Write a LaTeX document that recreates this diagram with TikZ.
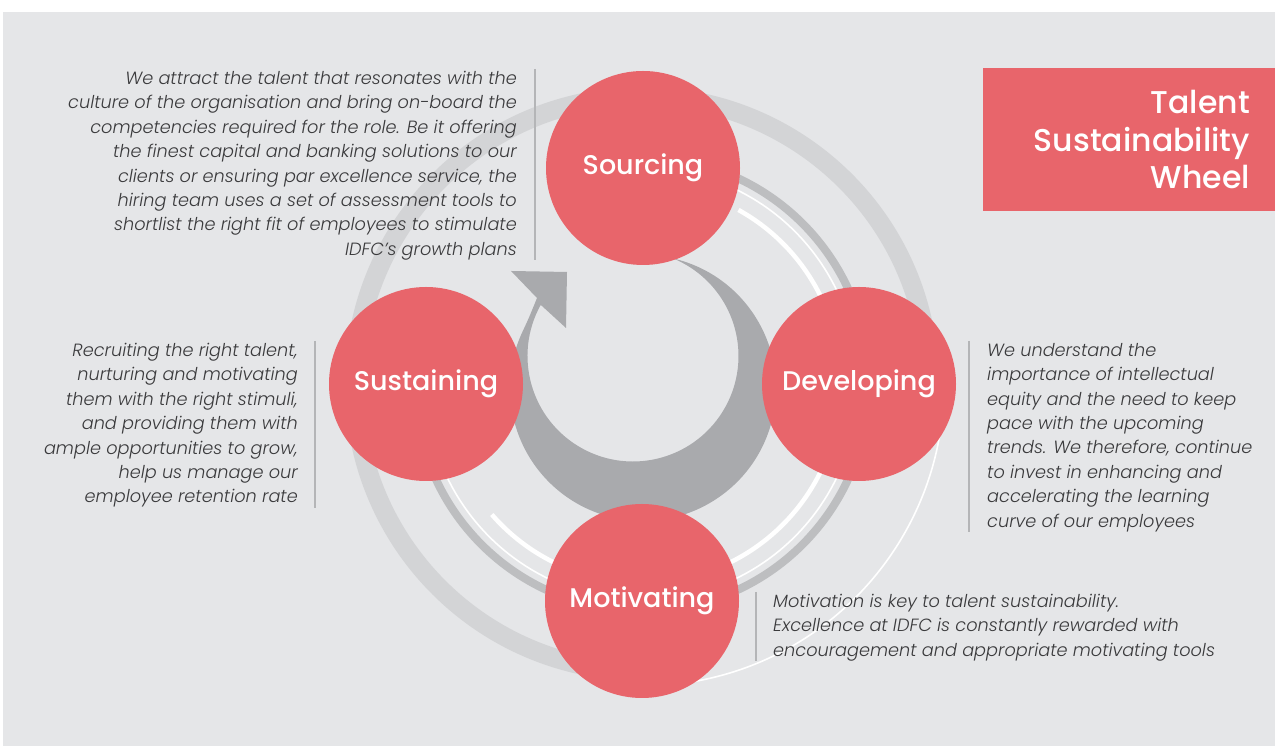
\documentclass[tikz,border=0pt]{standalone}
\usepackage{fontspec}
\setmainfont{Poppins}
\newfontfamily\bodyfont{Poppins Light Italic}
\newfontfamily\stagefont{Poppins Medium}
\definecolor{panel}{HTML}{E5E6E8}
\definecolor{wheelred}{HTML}{E8656B}
\definecolor{ringlight}{HTML}{D3D4D6}
\definecolor{ringmid}{HTML}{BDBEC0}
\definecolor{arrowgrey}{HTML}{A9AAAD}
\definecolor{bodytext}{HTML}{3A3A3C}
\definecolor{rulegrey}{HTML}{B4B5B7}

\begin{document}
\begin{tikzpicture}[x=1pt, y=1pt,
    stage/.style={circle, fill=wheelred, minimum size=194pt, inner sep=0pt,
      text=white, font=\stagefont\fontsize{27}{32}\selectfont},
    blurb/.style={inner sep=0pt, text=bodytext, font=\bodyfont\fontsize{17.7}{24.4}\selectfont},
    divider/.style={rulegrey, line width=1.3pt}]
  \useasboundingbox (0,0) rectangle (1275,746);
  % Panel
  \fill[white] (0,0) rectangle (1275,746);
  \fill[panel] (3,0) rectangle (1275,734);
  % Rings round the wheel
  \coordinate (hub) at (642,362);
  \draw[ringlight, line width=19pt] ([shift={(hub)}]8:287.5) arc[start angle=8, end angle=260, radius=287.5];
  \draw[white, line width=1.6pt] ([shift={(hub)}]5:302) arc[start angle=5, end angle=-84, radius=302];
  \draw[ringmid, line width=8pt] ([shift={(hub)}]90:227) arc[start angle=90, end angle=-180, radius=227];
  \draw[white, line width=1.6pt] ([shift={(hub)}]90:216) arc[start angle=90, end angle=-180, radius=216];
  \draw[white, line width=4.5pt] ([shift={(hub)}]61:199) arc[start angle=61, end angle=20, radius=199];
  \draw[white, line width=4.5pt] ([shift={(hub)}]-20:199) arc[start angle=-20, end angle=-80, radius=199];
  \draw[white, line width=4.5pt] ([shift={(hub)}]221:199) arc[start angle=221, end angle=260, radius=199];
  % Turning arrow
  \coordinate (outerc) at (643,358);
  \coordinate (innerc) at (633,390);
  \fill[arrowgrey] ([shift={(outerc)}]76.9:133) arc[start angle=76.9, end angle=-205, radius=133]
    .. controls (528.8,427.8) .. (537,448) -- (511,475) -- (567,474) -- (566,418)
    -- ([shift={(innerc)}]151:105.5) arc[start angle=151, end angle=427.7, radius=105.5] -- cycle;
  % Stages
  \node[stage] (sourcing) at (643,578) {Sourcing};
  \node[stage] (sustaining) at (426,362) {Sustaining};
  \node[stage] (developing) at (859,362) {Developing};
  \node[stage] (motivating) at (642,145) {Motivating};
  % Texts
  \node[blurb, align=right, anchor=north east] (sourcingText) at (517,675)
    {We attract the talent that resonates with the\\
     culture of the organisation and bring on-board the\\
     competencies required for the role. Be it offering\\
     the finest capital and banking solutions to our\\
     clients or ensuring par excellence service, the\\
     hiring team uses a set of assessment tools to\\
     shortlist the right fit of employees to stimulate\\
     IDFC’s growth plans};
  \draw[divider] ([xshift=18pt,yshift=2pt]sourcingText.north east) -- ([xshift=18pt]sourcingText.south east);
  \node[blurb, align=right, anchor=north east] (sustainingText) at (298,403)
    {Recruiting the right talent,\\
     nurturing and motivating\\
     them with the right stimuli,\\
     and providing them with\\
     ample opportunities to grow,\\
     help us manage our\\
     employee retention rate};
  \draw[divider] ([xshift=17pt,yshift=2pt]sustainingText.north east) -- ([xshift=17pt]sustainingText.south east);
  \node[blurb, align=left, anchor=north west] (developingText) at (987,403)
    {We understand the\\
     importance of intellectual\\
     equity and the need to keep\\
     pace with the upcoming\\
     trends. We therefore, continue\\
     to invest in enhancing and\\
     accelerating the learning\\
     curve of our employees};
  \draw[divider] ([xshift=-18pt,yshift=2pt]developingText.north west) -- ([xshift=-18pt]developingText.south west);
  \node[blurb, align=left, anchor=north west] (motivatingText) at (773,152)
    {Motivation is key to talent sustainability.\\
     Excellence at IDFC is constantly rewarded with\\
     encouragement and appropriate motivating tools};
  \draw[divider] ([xshift=-17pt,yshift=2pt]motivatingText.north west) -- ([xshift=-17pt]motivatingText.south west);
  % Title
  \node[fill=wheelred, anchor=north east, minimum width=292pt, minimum height=143pt,
    inner xsep=25pt, text width=242pt, align=right, text=white,
    font=\stagefont\fontsize{31.5}{37.5}\selectfont] (title) at (1275,678)
    {Talent\\Sustainability\\Wheel};
\end{tikzpicture}
\end{document}
